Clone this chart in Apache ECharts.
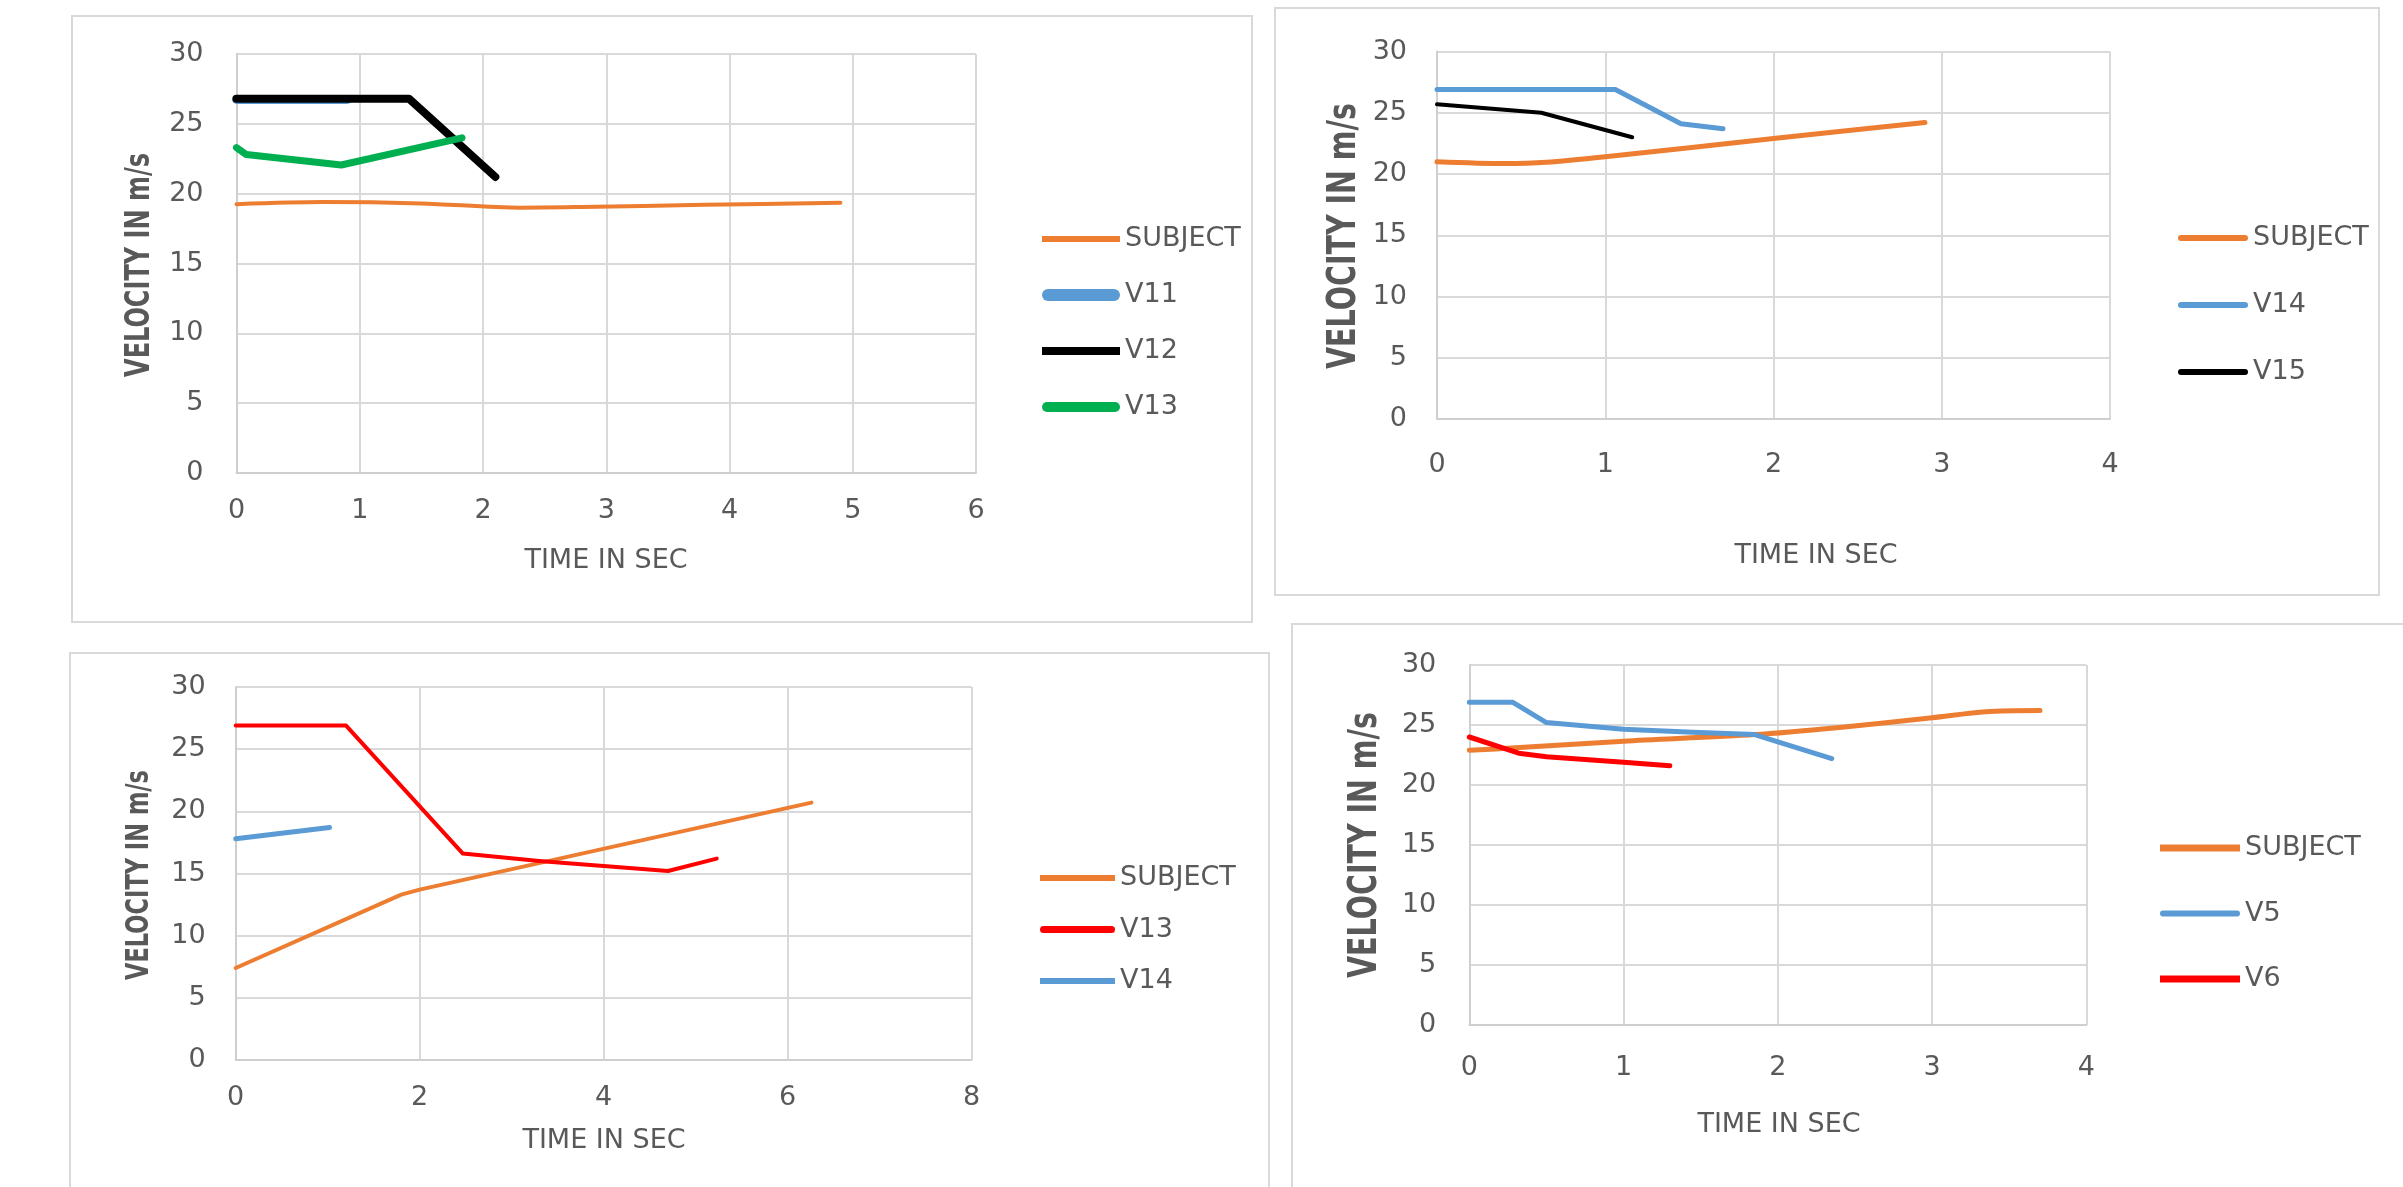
<!DOCTYPE html>
<html><head><meta charset="utf-8">
<script src="https://cdn.jsdelivr.net/npm/echarts@6/dist/echarts.min.js"></script>
<style>
html,body{margin:0;padding:0;background:#fff;width:2403px;height:1187px;overflow:hidden;}
.box{position:absolute;border:2px solid #d9d9d9;box-sizing:border-box;}
.chart{position:absolute;left:0;top:0;width:2403px;height:1187px;}
</style></head><body>
<div class="box" style="left:71px;top:15px;width:1182px;height:608px"></div>
<div class="box" style="left:1274px;top:7px;width:1106px;height:589px"></div>
<div class="box" style="left:69px;top:652px;width:1201px;height:600px"></div>
<div class="box" style="left:1291px;top:623px;width:1200px;height:600px"></div>
<div id="c1" class="chart"></div>
<div id="c2" class="chart"></div>
<div id="c3" class="chart"></div>
<div id="c4" class="chart"></div>
<script>
// ---------- DATA (time in s, velocity in m/s) ----------
// Panel 1
const p1SubjectT = [0, 0.7, 1.5, 2.3, 2.8, 3.8, 4.9];
const p1SubjectV = [19.25, 19.4, 19.3, 19.0, 19.05, 19.2, 19.35];
const p1V11T = [0, 0.9];
const p1V11V = [26.75, 26.75];
const p1V12T = [0, 1.4, 2.1];
const p1V12V = [26.8, 26.8, 21.2];
const p1V13T = [0, 0.08, 0.85, 1.83];
const p1V13V = [23.3, 22.8, 22.05, 24.0];
// Panel 2
const p2SubjectT = [0, 0.4, 0.65, 1.0, 2.0, 2.9];
const p2SubjectV = [21.0, 20.85, 20.95, 21.4, 22.9, 24.2];
const p2V14T = [0, 1.06, 1.45, 1.7];
const p2V14V = [26.9, 26.9, 24.1, 23.7];
const p2V15T = [0, 0.62, 1.16];
const p2V15V = [25.7, 25.0, 23.0];
// Panel 3
const p3SubjectT = [0, 1.8, 2.0, 6.26];
const p3SubjectV = [7.4, 13.3, 13.7, 20.7];
const p3V13T = [0, 1.2, 2.47, 3.3, 4.0, 4.7, 5.23];
const p3V13V = [26.9, 26.9, 16.6, 16.0, 15.6, 15.2, 16.2];
const p3V14T = [0, 1.02];
const p3V14V = [17.8, 18.7];
// Panel 4
const p4SubjectT = [0, 0.3, 1.0, 1.85, 2.4, 3.0, 3.35, 3.7];
const p4SubjectV = [22.9, 23.1, 23.65, 24.2, 24.8, 25.6, 26.1, 26.2];
const p4V5T = [0, 0.28, 0.5, 1.0, 1.45, 1.85, 2.35];
const p4V5V = [26.9, 26.9, 25.2, 24.65, 24.4, 24.2, 22.2];
const p4V6T = [0, 0.32, 0.5, 1.0, 1.3];
const p4V6V = [24.0, 22.65, 22.35, 21.9, 21.6];

const yTitle = 'VELOCITY IN m/s';
const xTitle = 'TIME IN SEC';

// ---------- STYLE ----------
const ORANGE = '#ED7D31', BLUE = '#5B9BD5', BLACK = '#000000', GREEN = '#00B050', RED = '#FF0000';
const TXT = '#595959';
const FONT = 'DejaVu Sans';

function zip(t, v) { return t.map((x, i) => [x, v[i]]); }

function iconPath(W, h, round) {
  if (!round) return 'path://M0,0H' + W + 'V' + h + 'H0Z';
  const r = h / 2;
  return 'path://M' + r + ',0H' + (W - r) + 'A' + r + ',' + r + ',0,0,1,' + (W - r) + ',' + h +
    'H' + r + 'A' + r + ',' + r + ',0,0,1,' + r + ',0Z';
}

function panel(id, p) {
  const chart = echarts.init(document.getElementById(id));
  const axisCommon = {
    type: 'value',
    axisLine: { show: true, lineStyle: { color: '#cfcfcf', width: 2 } },
    axisTick: { show: false },
    splitLine: { show: true, lineStyle: { color: '#d9d9d9', width: 2 } },
  };
  const W = p.leg[2];
  chart.setOption({
    animation: false,
    grid: { left: p.grid[0], top: p.grid[1], width: p.grid[2], height: p.grid[3] },
    xAxis: Object.assign({}, axisCommon, {
      min: 0, max: p.xmax, interval: p.xint,
      axisLabel: { color: TXT, fontFamily: FONT, fontSize: 27, margin: p.xm }
    }),
    yAxis: Object.assign({}, axisCommon, {
      min: 0, max: 30, interval: 5,
      axisLabel: { color: TXT, fontFamily: FONT, fontSize: 27, margin: p.ym }
    }),
    legend: {
      orient: 'vertical', left: p.leg[0], top: p.leg[1],
      itemWidth: W, itemHeight: 12, itemGap: p.leg[3],
      symbolKeepAspect: true,
      textStyle: { color: TXT, fontFamily: FONT, fontSize: 27, lineHeight: 30 },
      data: p.series.map(s => ({
        name: s.name,
        icon: iconPath(W, s.lw, s.round),
        itemStyle: { color: s.color }
      }))
    },
    graphic: [
      { type: 'text', x: p.xt[0], y: p.xt[1],
        style: { text: xTitle, fill: TXT, fontFamily: FONT, fontSize: 27, align: 'center', verticalAlign: 'middle' } },
      { type: 'text', x: p.yt[0], y: p.yt[1], rotation: Math.PI / 2, scaleY: 1.4,
        style: { text: yTitle, fill: TXT, fontFamily: 'DejaVu Sans', fontWeight: 'bold', fontSize: p.yt[2], align: 'center', verticalAlign: 'middle' } }
    ],
    series: p.series.map(s => ({
      type: 'line', name: s.name, data: zip(s.t, s.v), symbol: 'none', showSymbol: false,
      smooth: s.smooth || false,
      lineStyle: { color: s.color, width: s.w, cap: 'round', join: 'round' },
      itemStyle: { color: s.color }
    }))
  });
}

panel('c1', {
  grid: [236.5, 54, 739.5, 419], xmax: 6, xint: 1, xm: 24, ym: 33,
  leg: [1037, 219, 78, 26], xt: [606, 561], yt: [140, 265, 24],
  series: [
    { name: 'SUBJECT', t: p1SubjectT, v: p1SubjectV, color: ORANGE, w: 4, lw: 6, smooth: 0.3 },
    { name: 'V11', t: p1V11T, v: p1V11V, color: BLUE, w: 9, lw: 12, round: true },
    { name: 'V12', t: p1V12T, v: p1V12V, color: BLACK, w: 8, lw: 8 },
    { name: 'V13', t: p1V13T, v: p1V13V, color: GREEN, w: 7, lw: 10, round: true }
  ]
});
panel('c2', {
  grid: [1437, 51.5, 673, 367.5], xmax: 4, xint: 1, xm: 32, ym: 30,
  leg: [2173, 218, 70, 37], xt: [1816, 556], yt: [1345, 236, 28.5],
  series: [
    { name: 'SUBJECT', t: p2SubjectT, v: p2SubjectV, color: ORANGE, w: 5, lw: 6, smooth: 0.3, round: true },
    { name: 'V14', t: p2V14T, v: p2V14V, color: BLUE, w: 5, lw: 6, round: true },
    { name: 'V15', t: p2V15T, v: p2V15V, color: BLACK, w: 4, lw: 6, round: true }
  ]
});
panel('c3', {
  grid: [235.7, 687, 735.8, 373], xmax: 8, xint: 2, xm: 24, ym: 30,
  leg: [1035, 858, 75, 21.5], xt: [604, 1141], yt: [140, 875, 22.5],
  series: [
    { name: 'SUBJECT', t: p3SubjectT, v: p3SubjectV, color: ORANGE, w: 4, lw: 6 },
    { name: 'V13', t: p3V13T, v: p3V13V, color: RED, w: 4, lw: 7, round: true },
    { name: 'V14', t: p3V14T, v: p3V14V, color: BLUE, w: 5, lw: 6 }
  ]
});
panel('c4', {
  grid: [1469.3, 665, 617, 360], xmax: 4, xint: 1, xm: 29, ym: 33,
  leg: [2155, 828, 80, 35.5], xt: [1779, 1125], yt: [1366, 845, 28.5],
  series: [
    { name: 'SUBJECT', t: p4SubjectT, v: p4SubjectV, color: ORANGE, w: 5, lw: 7, smooth: 0.3 },
    { name: 'V5', t: p4V5T, v: p4V5V, color: BLUE, w: 5, lw: 6, round: true },
    { name: 'V6', t: p4V6T, v: p4V6V, color: RED, w: 5, lw: 7 }
  ]
});
</script>
</body></html>
